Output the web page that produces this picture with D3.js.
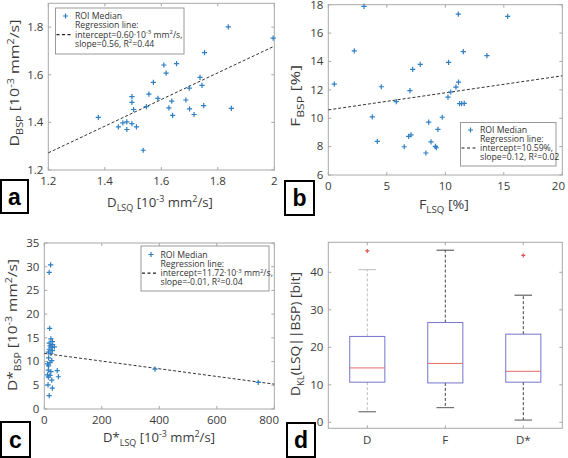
<!DOCTYPE html>
<html><head><meta charset="utf-8">
<script src="https://cdn.jsdelivr.net/npm/d3@7"></script>
<style>body{margin:0;background:#fff}svg{display:block}</style>
</head><body>
<svg id="c" width="568" height="458"></svg>
<script>
// ---- Data ----
const dLSQ = [1.837,1.996,1.753,1.654,1.609,1.617,1.572,1.737,1.744,1.699,1.556,1.588,1.496,1.496,1.502,1.547,1.637,1.627,1.640,1.687,1.700,1.716,1.750,1.848,1.377,1.448,1.464,1.478,1.478,1.496,1.512,1.536];
const dBSP = [1.801,1.754,1.693,1.647,1.641,1.607,1.568,1.589,1.555,1.544,1.519,1.501,1.508,1.484,1.454,1.466,1.489,1.461,1.429,1.494,1.457,1.433,1.470,1.459,1.421,1.381,1.398,1.402,1.370,1.395,1.381,1.283];
const dFit = [0.60, 0.56];

const fLSQ = [3.05,11.11,15.33,2.22,11.54,13.56,7.86,10.28,7.21,0.51,11.13,4.53,10.91,6.98,10.46,10.23,5.81,11.22,11.40,11.62,3.76,9.74,8.58,9.37,7.07,6.87,4.19,8.78,9.15,9.23,6.49,8.34];
const fBSP = [17.88,17.34,17.18,14.74,14.69,14.41,13.80,13.94,13.44,12.41,12.54,12.22,12.19,11.94,11.85,11.49,11.17,11.03,11.03,11.05,10.10,10.07,9.72,9.21,8.83,8.72,8.37,8.33,8.02,7.92,7.99,7.55];
const fFit = [10.59, 0.12];

const dsLSQ = [22,17,18.7,23,28,17,29,20,24,35,17,28,14,23,15,26,20,11,15,14,45,23,11,20,49,14,26,13,28,17,385,744];
const dsBSP = [30.4,28.8,17.0,14.8,14.2,13.9,13.6,13.3,13.0,13.1,12.6,12.3,12.0,11.7,10.8,10.2,9.8,9.5,9.1,8.2,8.1,7.9,7.2,7.1,6.8,6.7,6.1,5.1,4.4,2.8,8.4,5.6];
const dsFit = [11.72, -0.0081];

const boxCats = ["D","F","D*"];
const boxQ1 = [10.7,10.5,10.7];
const boxMed = [14.5,15.7,13.6];
const boxQ3 = [22.9,26.6,23.5];
const boxLo = [2.8,3.9,0.6];
const boxHi = [40.7,45.9,33.9];
const boxOut = [[45.7],[],[44.5]];

const ticksA_x = [1.2,1.4,1.6,1.8,2], ticksA_y = [1.2,1.4,1.6,1.8];
const ticksB_x = [0,5,10,15,20], ticksB_y = [6,8,10,12,14,16,18];
const ticksC_x = [0,200,400,600,800], ticksC_y = [0,5,10,15,20,25,30,35];
const ticksD_y = [0,10,20,30,40];

const legA = [["ROI Median"],["Regression line:"],[["intercept=0.60·10"],["-3","sup"],[" mm"],["2","sup"],["/s,"]],[["slope=0.56, R"],["2","sup"],["=0.44"]]];
const legB = [["ROI Median"],["Regression line:"],[["intercept=10.59%,"]],[["slope=0.12, R"],["2","sup"],["=0.02"]]];
const legC = [["ROI Median"],["Regression line:"],[["intercept=11.72·10"],["-3","sup"],[" mm"],["2","sup"],["/s,"]],[["slope=-0.01, R"],["2","sup"],["=0.04"]]];

// ---- Drawing ----
const FONT = "'Open Sans', 'DejaVu Sans', sans-serif";
const svg = d3.select("#c").style("font-family", FONT);
const BLUE = "#2f7fc4", AX = "#a8a8a8", TXT = "#3a3a3a";
const LEGFS = 8.7;

function rich(textSel, segs, size) {
  let off = 0;
  segs.forEach(s => {
    const [t, k] = Array.isArray(s) ? s : [s];
    const tp = textSel.append("tspan").text(t);
    let target = 0;
    if (k === "sup") { target = -size * 0.4; tp.attr("font-size", size * 0.68); }
    else if (k === "sub") { target = size * 0.28; tp.attr("font-size", size * 0.68); }
    tp.attr("dy", target - off);
    off = target;
  });
}

function plus(g, x, y, r, color) {
  g.append("path").attr("d", `M${x - r},${y}H${x + r}M${x},${y - r}V${y + r}`)
    .attr("stroke", color).attr("stroke-width", 1.2).attr("fill", "none");
}

function frame(b, xs, ys, xt, yt, maxX) {
  const g = svg.append("g");
  g.append("rect").attr("x", b.l).attr("y", b.t).attr("width", b.r - b.l).attr("height", b.b - b.t)
    .attr("fill", "none").attr("stroke", AX).attr("stroke-width", 1);
  const tl = 3;
  if (xt) xt.forEach(v => {
    const x = xs(v);
    g.append("path").attr("d", `M${x},${b.b}V${b.b - tl}M${x},${b.t}V${b.t + tl}`).attr("stroke", AX);
    const t = g.append("text").attr("x", x).attr("y", b.b + 15).attr("text-anchor", "middle")
      .attr("font-size", 11.5).attr("fill", TXT).text(v);
    const w = t.node().getComputedTextLength();
    if (x + w / 2 > maxX) t.attr("x", maxX).attr("text-anchor", "end");
  });
  yt.forEach(v => {
    const y = ys(v);
    g.append("path").attr("d", `M${b.l},${y}H${b.l + tl}M${b.r},${y}H${b.r - tl}`).attr("stroke", AX);
    g.append("text").attr("x", b.l - 5).attr("y", Math.max(y + 3.8, 9)).attr("text-anchor", "end")
      .attr("font-size", 11.5).attr("fill", TXT).text(v);
  });
  return g;
}

function fitText(sel, len, base) {
  const w = sel.node().getComputedTextLength();
  sel.attr("transform", base + ` scale(${len / w},1)`);
}

function axisLabels(xl, yl) {
  const tx = svg.append("text").attr("x", 0).attr("y", 0).attr("text-anchor", "middle")
    .attr("font-size", 13.5).attr("fill", TXT);
  rich(tx, xl.segs, 13.5);
  fitText(tx, xl.len, `translate(${xl.x},${xl.y})`);
  const ty = svg.append("text").attr("text-anchor", "middle").attr("font-size", 13.5).attr("fill", TXT);
  rich(ty, yl.segs, 13.5);
  fitText(ty, yl.len, `translate(${yl.x},${yl.y}) rotate(-90)`);
}

function legend(box, lines, first, lh) {
  const g = svg.append("g");
  g.append("rect").attr("x", box.l).attr("y", box.t).attr("width", box.r - box.l).attr("height", box.b - box.t)
    .attr("fill", "#fff").attr("stroke", "#9a9a9a").attr("stroke-width", 1);
  const tx = box.l + 19.5;
  lines.forEach((ln, i) => {
    const y = box.t + first + lh * i;
    const t = g.append("text").attr("x", tx).attr("y", y).attr("font-size", LEGFS).attr("fill", "#333");
    if (typeof ln[0] === "string" && ln.length === 1) t.text(ln[0]);
    else rich(t, ln, LEGFS);
  });
  plus(g, box.l + 10, box.t + first - 3, 2.5, BLUE);
  g.append("line").attr("x1", box.l + 1).attr("x2", box.l + 16)
    .attr("y1", box.t + first + lh * 2 - 3).attr("y2", box.t + first + lh * 2 - 3)
    .attr("stroke", "#222").attr("stroke-width", 1.2).attr("stroke-dasharray", "3,2.5");
}

function labelBox(x, y, w, h, ch) {
  svg.append("rect").attr("x", x + 1).attr("y", y + 1).attr("width", w - 2).attr("height", h - 2)
    .attr("fill", "#fff").attr("stroke", "#000").attr("stroke-width", 2);
  svg.append("text").attr("x", x + w / 2).attr("y", y + h / 2 + 8).attr("text-anchor", "middle")
    .attr("font-family", "'Liberation Sans', Arial, sans-serif").attr("font-weight", "bold")
    .attr("font-size", 23).attr("fill", "#000").text(ch);
}

function scatter(b, xd, yd, xv, yv, fit, xt, yt, maxX) {
  const xs = d3.scaleLinear().domain(xd).range([b.l, b.r]);
  const ys = d3.scaleLinear().domain(yd).range([b.b, b.t]);
  const g = frame(b, xs, ys, xt, yt, maxX);
  g.append("line").attr("x1", xs(xd[0])).attr("y1", ys(fit[0] + fit[1] * xd[0]))
    .attr("x2", xs(xd[1])).attr("y2", ys(fit[0] + fit[1] * xd[1]))
    .attr("stroke", "#333").attr("stroke-width", 1).attr("stroke-dasharray", "3,2");
  xv.forEach((v, i) => plus(g, xs(v), ys(yv[i]), 2.6, BLUE));
  return { xs, ys };
}

const dUnits = [[" [10"], ["-3", "sup"], [" mm"], ["2", "sup"], ["/s]"]];

// Panel a
const bA = { l: 48.3, t: 3.3, r: 274.3, b: 170 };
scatter(bA, [1.2, 2], [1.2, 1.9], dLSQ, dBSP, dFit, ticksA_x, ticksA_y, 279);
legend({ l: 55.5, t: 8, r: 184, b: 54 }, legA, 11, 9.3);
axisLabels({ x: 160, y: 207, len: 106, segs: [["D"], ["LSQ", "sub"], ...dUnits] },
  { x: 19, y: 83, len: 127, segs: [["D"], ["BSP", "sub"], ...dUnits] });
labelBox(0, 179, 29, 35, "a");

// Panel b
const bB = { l: 328.3, t: 4.7, r: 562.3, b: 175 };
scatter(bB, [0, 20], [6, 18], fLSQ, fBSP, fFit, ticksB_x, ticksB_y, 565);
legend({ l: 460.5, t: 122.5, r: 556, b: 166 }, legB, 10.5, 9);
axisLabels({ x: 444, y: 209, len: 50, segs: [["F"], ["LSQ", "sub"], [" [%]"]] },
  { x: 300, y: 96, len: 62, segs: [["F"], ["BSP", "sub"], [" [%]"]] });
labelBox(284, 180, 31, 36, "b");

// Panel c
const bC = { l: 44.3, t: 243, r: 274.3, b: 409 };
scatter(bC, [0, 800], [0, 35], dsLSQ, dsBSP, dsFit, ticksC_x, ticksC_y, 279);
legend({ l: 141, t: 246, r: 269, b: 291 }, legC, 11.5, 9.3);
axisLabels({ x: 159, y: 442, len: 112, segs: [["D*"], ["LSQ", "sub"], ...dUnits] },
  { x: 17, y: 325, len: 132, segs: [["D*"], ["BSP", "sub"], ...dUnits] });
labelBox(0, 421, 31, 37, "c");

// Panel d
const bD = { l: 328.3, t: 242.3, r: 562.3, b: 428.3 };
const xsD = d3.scaleLinear().domain([0.5, 3.5]).range([bD.l, bD.r]);
const ysD = d3.scaleLinear().domain([-1.6, 48]).range([bD.b, bD.t]);
const gD = frame(bD, xsD, ysD, null, ticksD_y, 565);
boxCats.forEach((c, i) => {
  const x = xsD(i + 1);
  gD.append("path").attr("d", `M${x},${bD.b}V${bD.b - 3}M${x},${bD.t}V${bD.t + 3}`).attr("stroke", AX);
  gD.append("text").attr("x", x).attr("y", 444).attr("text-anchor", "middle").attr("font-size", 11.5)
    .attr("fill", TXT).text(c);
  const hw = xsD(1.225) - xsD(1), cw = hw / 2;
  const wc = i === 0 ? "#bdbdbd" : "#444";
  gD.append("line").attr("x1", x).attr("x2", x).attr("y1", ysD(boxQ3[i])).attr("y2", ysD(boxHi[i]))
    .attr("stroke", wc).attr("stroke-dasharray", "3,2");
  gD.append("line").attr("x1", x).attr("x2", x).attr("y1", ysD(boxQ1[i])).attr("y2", ysD(boxLo[i]))
    .attr("stroke", wc).attr("stroke-dasharray", "3,2");
  gD.append("line").attr("x1", x - cw).attr("x2", x + cw).attr("y1", ysD(boxHi[i])).attr("y2", ysD(boxHi[i]))
    .attr("stroke", i === 0 ? "#bdbdbd" : "#444");
  gD.append("line").attr("x1", x - cw).attr("x2", x + cw).attr("y1", ysD(boxLo[i])).attr("y2", ysD(boxLo[i]))
    .attr("stroke", "#555");
  gD.append("rect").attr("x", x - hw).attr("y", ysD(boxQ3[i])).attr("width", 2 * hw)
    .attr("height", ysD(boxQ1[i]) - ysD(boxQ3[i])).attr("fill", "none").attr("stroke", "#7474cf");
  gD.append("line").attr("x1", x - hw).attr("x2", x + hw).attr("y1", ysD(boxMed[i])).attr("y2", ysD(boxMed[i]))
    .attr("stroke", "#e46a6a");
  boxOut[i].forEach(o => plus(gD, x, ysD(o), 2, "#e05050"));
});
const tyD = svg.append("text").attr("text-anchor", "middle").attr("font-size", 13.5).attr("fill", TXT);
rich(tyD, [["D"], ["KL", "sub"], ["(LSQ||BSP) [bit]"]], 13.5);
fitText(tyD, 124, `translate(300,334) rotate(-90)`);
labelBox(286, 422, 30, 36, "d");
</script>
</body></html>
